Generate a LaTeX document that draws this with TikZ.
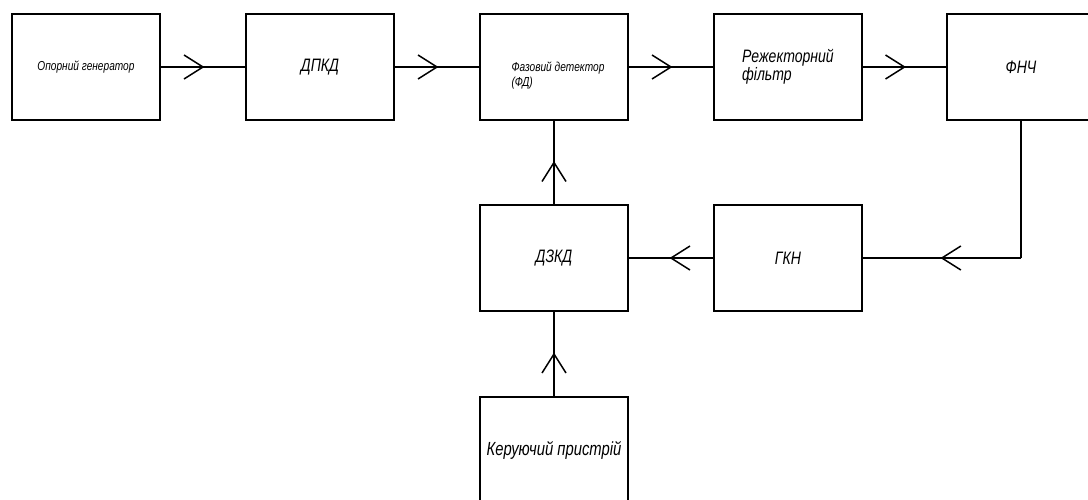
\documentclass[tikz,border=0pt]{standalone}
\usepackage{fontspec}
\setmainfont{Liberation Sans}[FakeStretch=0.78]
\usetikzlibrary{decorations.markings}
\tikzset{
  blk/.style={draw, line width=1.5pt, minimum width=148pt, minimum height=106pt,
    inner sep=0pt, font=\itshape\fontsize{18}{19}\selectfont, align=center},
  smalltxt/.style={font=\itshape\fontsize{13}{15}\selectfont},
  conn/.style={line width=1.5pt},
  arrowmid/.style={conn, postaction={decorate},
    decoration={markings, mark=at position 0.5 with {\draw[line width=1.5pt] (-19pt,12pt) -- (0pt,0pt) -- (-19pt,-12pt);}}},
}
\begin{document}
\begin{tikzpicture}[x=1pt,y=-1pt]
\useasboundingbox (0,0) rectangle (1088,499);
\clip (0,0) rectangle (1088,499);
\node[blk, smalltxt] (og) at (86,67) {Опорний генератор};
\node[blk] (dpkd) at (320,67) {ДПКД};
\node[blk] (fd) at (554,67) {};
\node[smalltxt, align=left, inner sep=0pt] (fdt) at (558,76) {Фазовий детектор\\(ФД)};
\node[blk, align=left, font=\itshape\fontsize{18}{18}\selectfont] (rf) at (788,67) {Режекторний\\фільтр};
\node[blk] (fnch) at (1021,67) {ФНЧ};
\node[blk] (dzkd) at (554,258) {ДЗКД};
\node[blk] (gkn) at (788,258) {ГКН};
\node[blk, font=\itshape\fontsize{19}{20}\selectfont] (kp) at (554,450) {Керуючий пристрій};
\coordinate (corner) at (fnch.south |- gkn.east);
\draw[arrowmid] (og.east) -- (dpkd.west);
\draw[arrowmid] (dpkd.east) -- (fd.west);
\draw[arrowmid] (fd.east) -- (rf.west);
\draw[arrowmid] (rf.east) -- (fnch.west);
\draw[conn] (fnch.south) -- (corner);
\draw[arrowmid] (corner) -- (gkn.east);
\draw[arrowmid] (gkn.west) -- (dzkd.east);
\draw[arrowmid] (dzkd.north) -- (fd.south);
\draw[arrowmid] (kp.north) -- (dzkd.south);
\end{tikzpicture}
\end{document}
